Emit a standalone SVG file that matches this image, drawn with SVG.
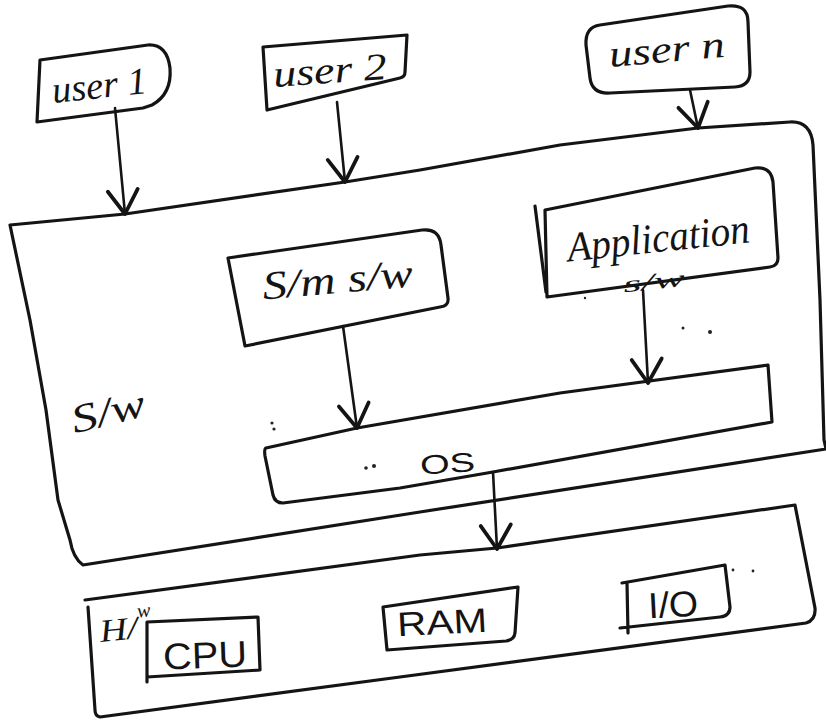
<svg xmlns="http://www.w3.org/2000/svg" width="826" height="724" viewBox="0 0 826 724">
  <style>
    .box { fill: none; stroke: #141414; stroke-width: 3.2; stroke-linejoin: round; stroke-linecap: round; }
    .wire { fill: none; stroke: #141414; stroke-width: 2.6; stroke-linecap: round; }
    .hand { font-family: "Liberation Serif", "DejaVu Serif", serif; font-style: italic; fill: #141414; }
    .print { font-family: "Liberation Sans", "DejaVu Sans", sans-serif; fill: #141414; }
    .dot { fill: #222; }
  </style>
  <defs>
    <marker id="arrow" markerUnits="userSpaceOnUse" markerWidth="40" markerHeight="40" viewBox="-22 -16 26 32" refX="0" refY="0" orient="auto" overflow="visible">
      <path d="M-19,-12 L0,0 L-19,12" fill="none" stroke="#141414" stroke-width="3" stroke-linecap="round" stroke-linejoin="round"/>
    </marker>
  </defs>

  <rect width="826" height="724" fill="#ffffff"/>

  <!-- software layer -->
  <g id="software">
    <path class="box" d="M10,225 L125,214 L345,182 L420,170 L560,145 L698,128 L790,122 Q811,121 813,145 L820,300 L824,440 L826,449 L420,512 L83,565 Q73,558 70,540 L58,500 L46,410 L30,320 Z"/>
    <text class="hand" x="70" y="425" font-size="40" textLength="75" lengthAdjust="spacingAndGlyphs" transform="rotate(-14 107 410)">S/w</text>
  </g>

  <g id="user1">
    <path class="box" d="M40,60 L148,45 Q167,44 170,68 Q172,94 152,105 L143,108 L37,122 Z"/>
    <text class="hand" x="52" y="98" font-size="38" textLength="95" lengthAdjust="spacingAndGlyphs" transform="rotate(-6 100 88)">user 1</text>
  </g>

  <g id="user2">
    <path class="box" d="M263,47 L407,35 L405,72 Q405,77 400,78 L267,110 Z"/>
    <text class="hand" x="273" y="83" font-size="38" textLength="114" lengthAdjust="spacingAndGlyphs" transform="rotate(-4 330 72)">user 2</text>
  </g>

  <g id="usern">
    <path class="box" d="M600,25 L728,6 Q748,4 748,22 L750,72 Q750,86 735,87 L610,93 Q592,94 590,78 L586,45 Q585,27 600,25 Z"/>
    <text class="hand" x="609" y="62" font-size="38" textLength="116" lengthAdjust="spacingAndGlyphs" transform="rotate(-5 666 52)">user n</text>
  </g>

  <g id="system-software">
    <path class="box" d="M228,258 L422,230 Q439,228 441,245 L448,298 Q449,306 440,307 L245,346 Z"/>
    <text class="hand" x="262" y="293" font-size="40" textLength="151" lengthAdjust="spacingAndGlyphs" transform="rotate(-5 337 280)">S/m s/w</text>
  </g>

  <g id="application-software">
    <path class="box" d="M545,210 L755,168 Q771,166 773,182 L778,258 Q778,266 770,267 L547,297 Z"/>
    <path class="box" d="M535,206 L546,292"/>
    <text class="hand" x="567" y="252" font-size="42" textLength="183" lengthAdjust="spacingAndGlyphs" transform="rotate(-6 658 240)">Application</text>
    <text class="hand" x="623" y="289" font-size="23" textLength="62" lengthAdjust="spacingAndGlyphs" transform="rotate(-6 654 282)">s/w</text>
  </g>

  <g id="os">
    <path class="box" d="M266,448 L357,428 L560,393 L768,365 L772,422 L493,472 L400,488 L283,503 Q275,503 273,495 L265,456 Q264,449 266,448 Z"/>
    <text class="print" x="420" y="473" font-size="27" textLength="55" lengthAdjust="spacingAndGlyphs" transform="rotate(-4 447 462)">OS</text>
    <circle class="dot" cx="366" cy="468" r="1.8"/>
    <circle class="dot" cx="374" cy="466" r="2"/>
  </g>

  <!-- hardware layer -->
  <g id="hardware">
    <path class="box" d="M85,600 L420,555 L497,548 L795,505 L815,608 Q816,620 806,623 L400,677 L100,717 Q95,716 95,710 L88,607"/>
    <text class="hand" x="99" y="640" font-size="32" textLength="38" lengthAdjust="spacingAndGlyphs" transform="rotate(-6 118 625)">H/</text>
    <text class="hand" x="137" y="617" font-size="20" transform="rotate(-6 145 610)">w</text>
  </g>

  <g id="cpu">
    <path class="box" d="M147,622 L258,617 L260,670 L147,677 M147,622 L147,682"/>
    <text class="print" x="163" y="668" font-size="37" textLength="84" lengthAdjust="spacingAndGlyphs" transform="rotate(-2 205 655)">CPU</text>
  </g>

  <g id="ram">
    <path class="box" d="M383,607 L518,587 L515,633 Q514,640 506,641 L387,650 Z"/>
    <text class="print" x="397" y="634" font-size="34" textLength="90" lengthAdjust="spacingAndGlyphs" transform="rotate(-3 442 620)">RAM</text>
  </g>

  <g id="io">
    <path class="box" d="M622,583 L725,565 L730,607 Q730,616 720,617 L620,628 M627,583 L628,633"/>
    <text class="print" x="648" y="617" font-size="36" textLength="50" lengthAdjust="spacingAndGlyphs" transform="rotate(-3 673 603)">I/O</text>
  </g>

  <!-- stray pen marks -->
  <g id="marks">
    <circle class="dot" cx="272" cy="423" r="1.6"/>
    <circle class="dot" cx="274" cy="429" r="1.6"/>
    <circle class="dot" cx="683" cy="328" r="1.5"/>
    <circle class="dot" cx="710" cy="332" r="2"/>
    <circle class="dot" cx="733" cy="570" r="1.4"/>
    <circle class="dot" cx="753" cy="571" r="1.4"/>
    <circle class="dot" cx="585" cy="298" r="1.2"/>
  </g>

  <g id="connectors">
    <path class="wire" d="M115,108 L125,214" marker-end="url(#arrow)"/>
    <path class="wire" d="M337,102 L345,182" marker-end="url(#arrow)"/>
    <path class="wire" d="M690,90 L698,128" marker-end="url(#arrow)"/>
    <path class="wire" d="M343,326 L357,428" marker-end="url(#arrow)"/>
    <path class="wire" d="M643,290 L648,383" marker-end="url(#arrow)"/>
    <path class="wire" d="M493,472 L497,549" marker-end="url(#arrow)"/>
  </g>
</svg>
